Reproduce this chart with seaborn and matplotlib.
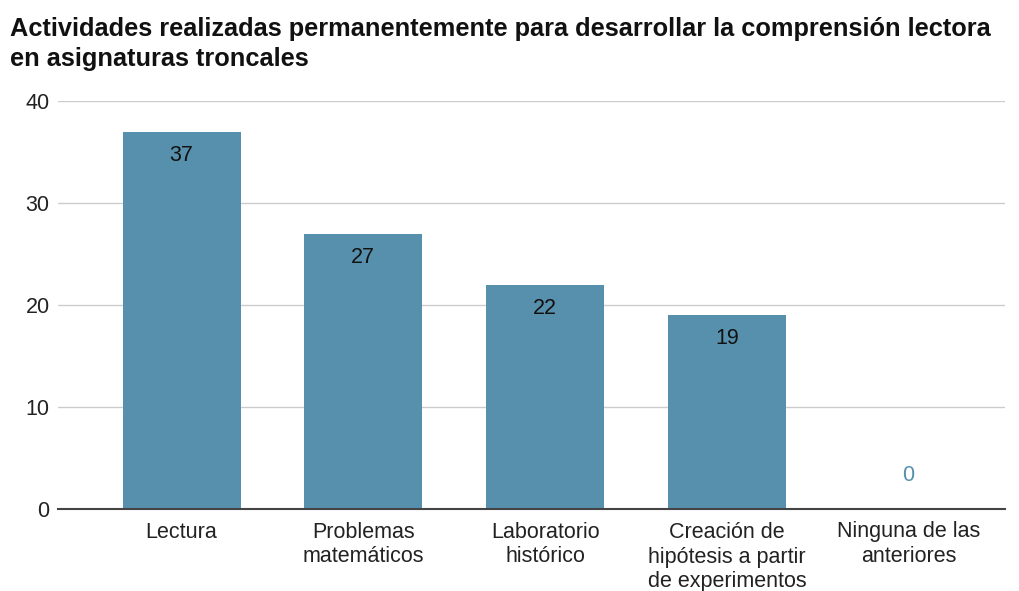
import pandas as pd
import seaborn as sns
import matplotlib.pyplot as plt

categories = ["Lectura", "Problemas\nmatemáticos", "Laboratorio\nhistórico",
              "Creación de\nhipótesis a partir\nde experimentos", "Ninguna de las\nanteriores"]
values = [37, 27, 22, 19, 0]
y_ticks = [0, 10, 20, 30, 40]

bar_color = "#5790ad"

sns.set_theme(style="white")
plt.rcParams['font.family'] = ['Liberation Sans', 'DejaVu Sans']

df = pd.DataFrame({"actividad": categories, "n": values})

fig = plt.figure(figsize=(10.19, 5.91), dpi=100)
ax = fig.add_axes([58 / 1019, 1 - 509 / 591, (1005 - 58) / 1019, (509 - 101) / 591])
sns.barplot(data=df, x="actividad", y="n", color=bar_color, saturation=1, width=0.65,
            linewidth=0, ax=ax)

ax.set_ylim(0, 40)
ax.set_xlim(-0.68, 4.53)
ax.set_yticks(y_ticks)
ax.yaxis.grid(True, color="#cccccc", linewidth=1)
ax.set_axisbelow(True)
for s in ["left", "right", "top"]:
    ax.spines[s].set_visible(False)
ax.spines["bottom"].set_color("#444444")
ax.spines["bottom"].set_linewidth(1.5)
ax.tick_params(axis="y", length=0, labelsize=15.5, colors="#222222", pad=6)
ax.tick_params(axis="x", length=0, labelsize=15.5, colors="#222222", pad=9)
for lbl in ax.get_xticklabels():
    lbl.set_linespacing(1.25)
ax.set_xlabel("")
ax.set_ylabel("")

for i, v in enumerate(values):
    if v > 0:
        ax.text(i, v - 1.3, str(v), ha="center", va="top", fontsize=15.5, color="#111111")
    else:
        ax.text(i, v + 3.3, str(v), ha="center", va="center", fontsize=15.5, color=bar_color)

fig.text(10 / 1019, 1 - 17 / 591,
         "Actividades realizadas permanentemente para desarrollar la comprensión lectora\nen asignaturas troncales",
         ha="left", va="top", fontsize=18.3, fontweight="bold", color="#111111", linespacing=1.3)

fig.savefig("out.png", dpi=100)
